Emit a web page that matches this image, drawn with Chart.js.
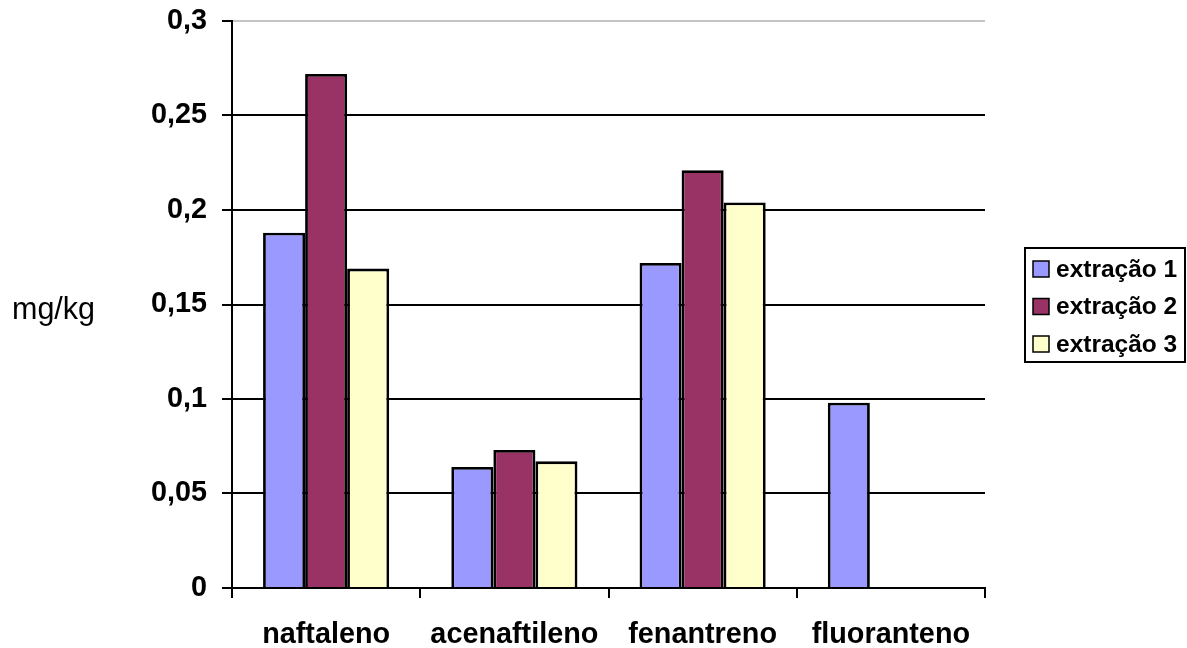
<!DOCTYPE html>
<html>
<head>
<meta charset="utf-8">
<script src="https://cdn.jsdelivr.net/npm/chart.js@4/dist/chart.umd.min.js"></script>
<style>
  html, body { margin: 0; padding: 0; background: #fff; overflow: hidden; }
  #chart { display: block; }
</style>
</head>
<body>
<canvas id="chart" width="1187" height="648"></canvas>
<script>
const categories = ['naftaleno', 'acenaftileno', 'fenantreno', 'fluoranteno'];
const seriesNames = ['extração 1', 'extração 2', 'extração 3'];
const extracao1 = [0.188, 0.064, 0.172, 0.098];
const extracao2 = [0.272, 0.073, 0.221, null];
const extracao3 = [0.169, 0.067, 0.204, null];
const yTicks = [0, 0.05, 0.1, 0.15, 0.2, 0.25, 0.3];
const yTickLabels = ['0', '0,05', '0,1', '0,15', '0,2', '0,25', '0,3'];
const yTitle = 'mg/kg';

const FONT = "'Liberation Sans', Arial, sans-serif";
const colors = ['#9999FF', '#993366', '#FFFFCC'];

// free-standing axis title and framed legend on the right
const extras = {
  id: 'extras',
  afterDraw(chart) {
    const ctx = chart.ctx;
    ctx.save();
    ctx.fillStyle = '#000';
    ctx.font = '30.5px ' + FONT;
    ctx.textAlign = 'left';
    ctx.textBaseline = 'middle';
    ctx.fillText(yTitle, 12, 311);

    const bx = 1025, by = 248, bw = 160, bh = 114;
    ctx.lineWidth = 2;
    ctx.strokeStyle = '#000';
    ctx.strokeRect(bx, by, bw, bh);
    ctx.font = 'bold 24.5px ' + FONT;
    chart.data.datasets.forEach((ds, i) => {
      const cy = by + 21 + i * 37.5;
      ctx.fillStyle = ds.backgroundColor;
      ctx.fillRect(bx + 8, cy - 8, 16, 16);
      ctx.lineWidth = 1.5;
      ctx.strokeRect(bx + 8, cy - 8, 16, 16);
      ctx.fillStyle = '#000';
      ctx.fillText(ds.label, bx + 31, cy + 1);
    });
    ctx.restore();
  }
};

const series = [extracao1, extracao2, extracao3];

new Chart(document.getElementById('chart'), {
  type: 'bar',
  data: {
    labels: categories,
    datasets: series.map((vals, i) => ({
      label: seriesNames[i],
      data: vals,
      backgroundColor: colors[i],
      borderColor: '#000',
      borderWidth: 2.8,
      categoryPercentage: 0.67,
      barPercentage: 1.0
    }))
  },
  options: {
    responsive: false,
    animation: false,
    devicePixelRatio: 1,
    layout: { padding: { top: 21, right: 202, bottom: 0, left: 0 } },
    plugins: { legend: { display: false }, tooltip: { enabled: false } },
    scales: {
      x: {
        offset: true,
        grid: {
          display: true,
          offset: true,
          drawOnChartArea: false,
          drawTicks: true,
          tickLength: 10,
          tickWidth: 2,
          tickColor: '#000',
          color: '#000',
          lineWidth: 2
        },
        border: { display: true, color: '#000', width: 2 },
        ticks: {
          color: '#000',
          padding: 20,
          font: { family: FONT, size: 28.8, weight: 'bold' },
          maxRotation: 0,
          autoSkip: false
        },
        afterFit(scale) { scale.height = 60; scale.paddingLeft = 0; scale.paddingRight = 0; }
      },
      y: {
        min: 0,
        max: 0.3,
        afterBuildTicks(scale) { scale.ticks = yTicks.map(v => ({ value: v })); },
        grid: {
          color: ctx => (ctx.tick && ctx.tick.value === 0.3) ? '#c4c4c4' : '#000',
          lineWidth: 2,
          drawTicks: true,
          tickLength: 10,
          tickColor: '#000',
          tickWidth: 2
        },
        border: { display: true, color: '#000', width: 2 },
        ticks: {
          color: '#000',
          padding: 15,
          font: { family: FONT, size: 28.8, weight: 'bold' },
          callback: (v) => yTickLabels[yTicks.indexOf(v)]
        },
        afterFit(scale) { scale.width = 232; scale.paddingTop = 0; scale.paddingBottom = 0; }
      }
    }
  },
  plugins: [extras]
});
</script>
</body>
</html>
